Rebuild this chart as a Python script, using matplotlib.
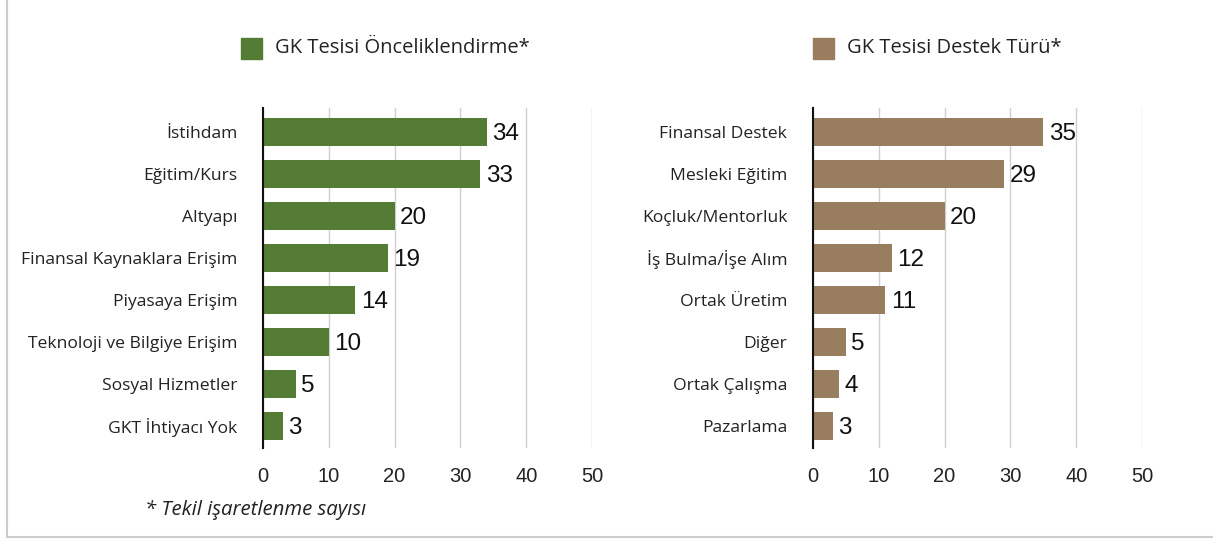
import matplotlib
matplotlib.use("Agg")
import matplotlib.pyplot as plt
from matplotlib.patches import Rectangle

TXT = ['Open Sans', 'DejaVu Sans']
NUM = ['Liberation Sans', 'DejaVu Sans']
plt.rcParams['font.family'] = TXT

left_categories = ["İstihdam", "Eğitim/Kurs", "Altyapı", "Finansal Kaynaklara Erişim",
                   "Piyasaya Erişim", "Teknoloji ve Bilgiye Erişim", "Sosyal Hizmetler",
                   "GKT İhtiyacı Yok"]
left_values = [34, 33, 20, 19, 14, 10, 5, 3]
right_categories = ["Finansal Destek", "Mesleki Eğitim", "Koçluk/Mentorluk",
                    "İş Bulma/İşe Alım", "Ortak Üretim", "Diğer", "Ortak Çalışma",
                    "Pazarlama"]
right_values = [35, 29, 20, 12, 11, 5, 4, 3]
x_ticks = [0, 10, 20, 30, 40, 50]
left_title = "GK Tesisi Önceliklendirme*"
right_title = "GK Tesisi Destek Türü*"
footnote = "* Tekil işaretlenme sayısı"

W, H = 1213, 539
fig = plt.figure(figsize=(W / 100, H / 100), dpi=100)

def fx(px):
    return px / W

def fy(py):
    return 1 - py / H

def panel(x0px, cats, vals, color, title, leg_x):
    ax = fig.add_axes([fx(x0px), fy(448), fx(329), (448 - 108) / H])
    y = list(range(len(cats)))
    ax.barh(y, vals, height=0.67, color=color, zorder=3)
    ax.set_xlim(0, 50)
    ax.set_ylim(7.524, -0.571)
    ax.set_yticks(y)
    ax.set_yticklabels(cats, fontsize=12.6, color="#222222", family=TXT)
    ax.set_xticks(x_ticks)
    ax.set_xticklabels([str(t) for t in x_ticks], fontsize=14.5, color="#222222", family=NUM)
    ax.tick_params(axis='both', length=0)
    ax.tick_params(axis='y', pad=18.5)
    ax.tick_params(axis='x', pad=13.5)
    ax.grid(axis='x', color="#d0d0d0", linewidth=1, zorder=0)
    for s in ['top', 'right', 'bottom']:
        ax.spines[s].set_visible(False)
    ax.spines['left'].set_color("#111111")
    ax.spines['left'].set_linewidth(1.5)
    ax.spines['left'].set_zorder(4)
    for yi, v in zip(y, vals):
        ax.annotate(str(v), (v, yi), xytext=(4, -1.5), textcoords='offset points',
                    va='center', ha='left', fontsize=17.5, color="#111111", family=NUM)
    # legend
    fig.patches.append(Rectangle((fx(leg_x), fy(59)), fx(21), 21 / H, color=color,
                                 transform=fig.transFigure, figure=fig))
    fig.text(fx(leg_x + 34), fy(48), title, fontsize=14.5, va='center', ha='left', color="#222222")
    return ax

panel(263, left_categories, left_values, "#557c35", left_title, 241)
panel(813, right_categories, right_values, "#997d5f", right_title, 813)

fig.text(fx(145), fy(510), footnote, fontsize=14.7, style='italic', va='center', ha='left',
         color="#222222")

# frame border
fig.add_artist(plt.Line2D([fx(7), fx(7)], [fy(0), fy(537)], color="#cccccc", lw=1.5,
                          transform=fig.transFigure))
fig.add_artist(plt.Line2D([fx(7), fx(1213)], [fy(537), fy(537)], color="#cccccc", lw=1.5,
                          transform=fig.transFigure))

fig.savefig("out.png", dpi=100)
